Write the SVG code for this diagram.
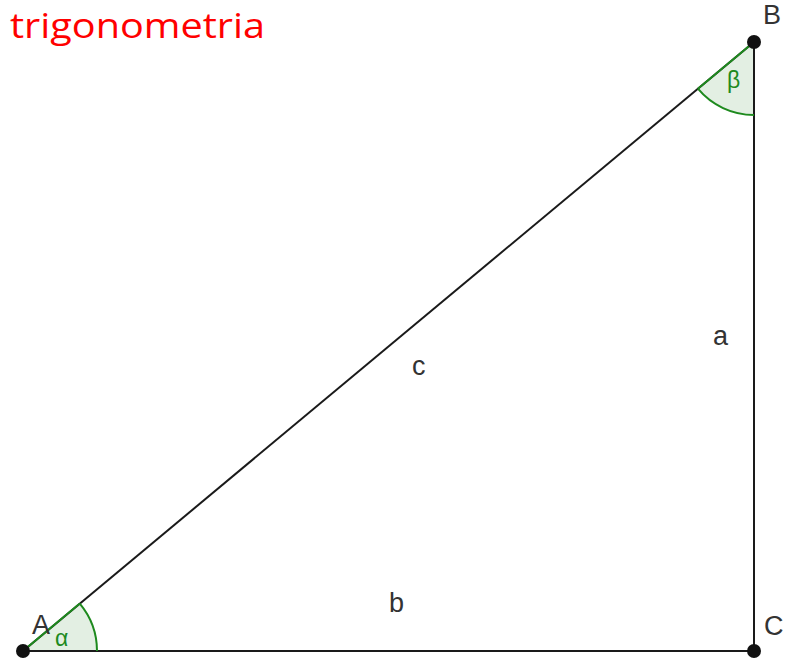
<svg xmlns="http://www.w3.org/2000/svg" width="788" height="664" viewBox="0 0 788 664">
<style>
.side{stroke:#1a1a1a;stroke-width:2;fill:none}
.ang{fill:#e3efe3;stroke:none}
.arc{stroke:#1e8a1e;stroke-width:2;fill:none}
.pt{fill:#111}
.lbl{font-family:"Liberation Sans",Arial,sans-serif;font-size:27px;fill:#333}
.glbl{font-family:"Liberation Sans",Arial,sans-serif;font-size:23px;fill:#1e8a1e}
.title{font-family:"Open Sans","Liberation Sans",sans-serif;font-size:34px;font-weight:500;fill:#ff0000}
</style>
<rect width="788" height="664" fill="#ffffff"/>
<text class="title" x="10" y="38" textLength="255" lengthAdjust="spacingAndGlyphs">trigonometria</text>
<g id="angles">
<path class="ang" d="M23,651 L97,651 A74,74 0 0 0 79.8,603.6 Z"/>
<path class="ang" d="M754,42 L697.9,88.7 A73,73 0 0 0 754,115 Z"/>
</g>
<g id="connectors">
<line class="side" x1="23" y1="651" x2="754" y2="651"/>
<line class="side" x1="754" y1="651" x2="754" y2="42"/>
<line class="side" x1="23" y1="651" x2="754" y2="42"/>
</g>
<g id="arcs">
<path class="arc" d="M97,651 A74,74 0 0 0 79.8,603.6"/>
<line class="arc" x1="23" y1="651" x2="79.8" y2="603.6"/>
<path class="arc" d="M697.9,88.7 A73,73 0 0 0 754,115"/>
<line class="arc" x1="754" y1="42" x2="697.9" y2="88.7"/>
</g>
<g id="A"><circle class="pt" cx="23" cy="651" r="7"/><text class="lbl" x="32" y="634">A</text></g>
<g id="B"><circle class="pt" cx="754" cy="42" r="7"/><text class="lbl" x="763" y="24">B</text></g>
<g id="C"><circle class="pt" cx="754" cy="651" r="7"/><text class="lbl" x="764" y="635">C</text></g>
<text class="glbl" x="55" y="646">α</text>
<text class="glbl" x="727" y="88">β</text>
<text class="lbl" x="713" y="345">a</text>
<text class="lbl" x="389" y="612">b</text>
<text class="lbl" x="412" y="375">c</text>
</svg>
